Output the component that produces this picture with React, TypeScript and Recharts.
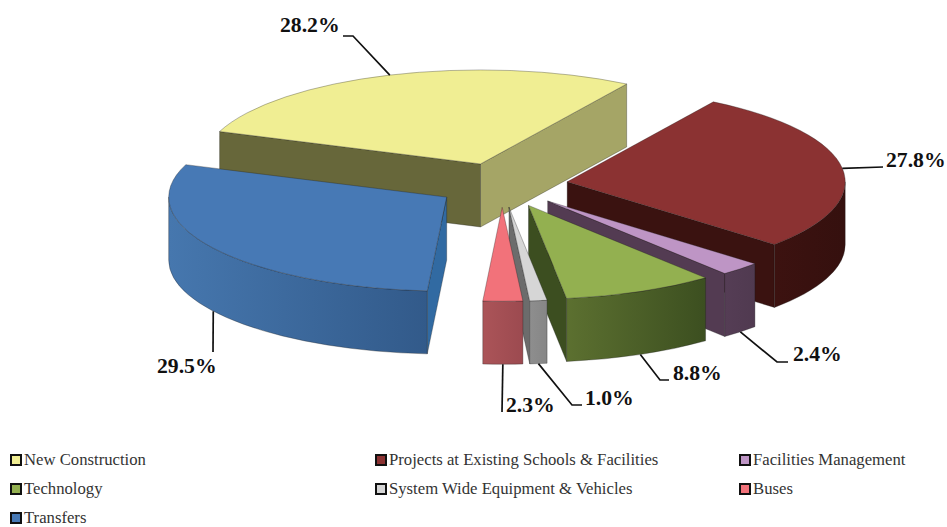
import React from 'react'
import { PieChart, Pie, Legend } from 'recharts'

const CATEGORIES = [
  'New Construction',
  'Projects at Existing Schools & Facilities',
  'Facilities Management',
  'Technology',
  'System Wide Equipment & Vehicles',
  'Buses',
  'Transfers'
]
const SHARES = [28.2, 27.8, 2.4, 8.8, 1.0, 2.3, 29.5]
const TOP_COLORS = ['#F0EE93', '#8B3232', '#BE95C5', '#93B050', '#D6D6D6', '#F2727A', '#4779B5']

const WIDTH = 947
const HEIGHT = 527
const CENTER_X = 502
const CENTER_Y = 185
const RADIUS = 278
const TILT = 94 / 278 // vertical squash of the pie plane
const DEPTH = 63
const EXPLODE = 0.237

// face colours: radial walls, and left/right stops for the curved wall
const SLICE_FACES = [
  { start: '#67673A', end: '#A5A566', arc: ['#8C8C50', '#8C8C50'] },
  { start: '#3A1210', end: '#3A1210', arc: ['#3C1210', '#35100E'] },
  { start: '#533B52', end: '#533B52', arc: ['#553D55', '#503A50'] },
  { start: '#3C4E20', end: '#3C4E20', arc: ['#5C7030', '#3C4F20'] },
  { start: '#6C6C6C', end: '#6C6C6C', arc: ['#8E8E8E', '#868686'] },
  { start: '#9C4A50', end: '#9C4A50', arc: ['#AB5458', '#9C4A50'] },
  { start: '#316AA2', end: '#316AA2', arc: ['#4677AE', '#325A8A'] }
]

// elbow and text anchor of each value label
const CALLOUTS = [
  { elbow: [[353, 36], [343, 36]], text: [280, 32] },
  { elbow: [[883, 167]], text: [886, 167] },
  { elbow: [[777, 362], [788, 362]], text: [793, 361] },
  { elbow: [[660, 380], [669, 380]], text: [673, 380] },
  { elbow: [[572, 405], [582, 405]], text: [585, 405] },
  { elbow: [[502, 412]], text: [506, 412] },
  { elbow: [[213, 352]], text: [157, 373] }
]

const tableData = CATEGORIES.map((name, i) => ({
  name,
  value: SHARES[i],
  fill: TOP_COLORS[i]
}))

const rad = (deg: number) => (deg * Math.PI) / 180

// point on the squashed pie plane, angle in Recharts degrees
const onPlane = (x: number, y: number, r: number, deg: number): [number, number] => [
  x + r * Math.cos(rad(deg)),
  y - r * TILT * Math.sin(rad(deg))
]

const SliceShape = (props: any) => {
  const { cx, cy, outerRadius: r, startAngle, endAngle, fill, index, name } = props
  const mid = (startAngle + endAngle) / 2
  const [ax, ay] = onPlane(cx, cy, r * EXPLODE, mid)
  const [sx, sy] = onPlane(ax, ay, r, startAngle)
  const [ex, ey] = onPlane(ax, ay, r, endAngle)
  const ry = r * TILT
  const large = startAngle - endAngle > 180 ? 1 : 0
  const i = index ?? CATEGORIES.indexOf(name)
  const faces = SLICE_FACES[i]
  const gradId = `arc-wall-${i}`

  // a radial wall shows when its outward normal points toward the viewer
  const showStart = Math.cos(rad(startAngle)) < 0
  const showEnd = Math.cos(rad(endAngle)) > 0

  // curved wall only exists on the front half of the ellipse
  const a0 = Math.min(startAngle, 0)
  const a1 = Math.max(endAngle, -180)
  let arcWall: string | null = null
  if (a0 > a1) {
    const [p0x, p0y] = onPlane(ax, ay, r, a0)
    const [p1x, p1y] = onPlane(ax, ay, r, a1)
    arcWall =
      `M${p0x},${p0y} A${r},${ry} 0 0 1 ${p1x},${p1y} ` +
      `L${p1x},${p1y + DEPTH} A${r},${ry} 0 0 0 ${p0x},${p0y + DEPTH} Z`
  }

  const edge = 'rgba(30,30,30,0.45)'
  return (
    <g>
      <defs>
        <linearGradient id={gradId} x1="0" y1="0" x2="1" y2="0">
          <stop offset="0%" stopColor={faces.arc[0]} />
          <stop offset="100%" stopColor={faces.arc[1]} />
        </linearGradient>
      </defs>
      {showStart && (
        <path
          d={`M${ax},${ay} L${sx},${sy} L${sx},${sy + DEPTH} L${ax},${ay + DEPTH} Z`}
          fill={faces.start}
          stroke={edge}
          strokeWidth={0.7}
        />
      )}
      {showEnd && (
        <path
          d={`M${ax},${ay} L${ex},${ey} L${ex},${ey + DEPTH} L${ax},${ay + DEPTH} Z`}
          fill={faces.end}
          stroke={edge}
          strokeWidth={0.7}
        />
      )}
      {arcWall && <path d={arcWall} fill={`url(#${gradId})`} stroke={edge} strokeWidth={0.7} />}
      <path
        d={`M${ax},${ay} L${sx},${sy} A${r},${ry} 0 ${large} 1 ${ex},${ey} Z`}
        fill={fill}
        stroke={edge}
        strokeWidth={0.7}
      />
    </g>
  )
}

// leader line starts at the rim of the exploded slice and runs to the value text
const renderCallout = (props: any) => {
  const { cx, cy, outerRadius: r, startAngle, endAngle, value, index } = props
  const mid = (startAngle + endAngle) / 2
  const [ax, ay] = onPlane(cx, cy, r * EXPLODE, mid)
  const [rx, ry] = onPlane(ax, ay, r, mid)
  const front = Math.sin(rad(mid)) < -0.3
  const callout = CALLOUTS[index]
  const pts = [[rx, front ? ry + DEPTH : ry], ...callout.elbow]
  return (
    <g key={`callout-${index}`}>
      <polyline
        points={pts.map(p => p.join(',')).join(' ')}
        fill="none"
        stroke="#111"
        strokeWidth={1.7}
      />
      <text
        x={callout.text[0]}
        y={callout.text[1]}
        textAnchor="start"
        fontFamily="'Liberation Serif', serif"
        fontWeight={700}
        fontSize={21.7}
        fill="#111"
      >
        {value.toFixed(1)}%
      </text>
    </g>
  )
}

const renderLegend = (props: any) => {
  const items = props.payload ?? []
  return (
    <div
      style={{
        display: 'grid',
        gridTemplateColumns: '365px 364px 208px',
        gridAutoRows: '15px',
        rowGap: 14,
        paddingLeft: 10,
        fontFamily: "'Liberation Serif', serif",
        fontSize: 16.7,
        lineHeight: '15px',
        color: '#333'
      }}
    >
      {items.map((item: any) => (
        <div key={item.value} style={{ display: 'flex', alignItems: 'center', whiteSpace: 'nowrap' }}>
          <span
            style={{
              width: 8,
              height: 8,
              marginRight: 2,
              border: '2px solid #111',
              background: item.color,
              flex: 'none'
            }}
          />
          {item.value}
        </div>
      ))}
    </div>
  )
}

export default function App() {
  return (
    <div style={{ position: 'absolute', left: 0, top: 0, width: WIDTH, height: HEIGHT, background: '#fff' }}>
      <PieChart width={WIDTH} height={HEIGHT} margin={{ top: 0, right: 0, bottom: 0, left: 0 }}>
        <Pie
          data={tableData}
          dataKey="value"
          nameKey="name"
          cx={CENTER_X}
          cy={CENTER_Y}
          innerRadius={0}
          outerRadius={RADIUS}
          startAngle={159.8}
          endAngle={-200.2}
          shape={SliceShape}
          label={renderCallout}
          labelLine={false}
          isAnimationActive={false}
        />
        <Legend
          content={renderLegend}
          itemSorter={null}
          wrapperStyle={{ position: 'absolute', left: 0, top: 452, width: WIDTH, height: 75 }}
        />
      </PieChart>
    </div>
  )
}
